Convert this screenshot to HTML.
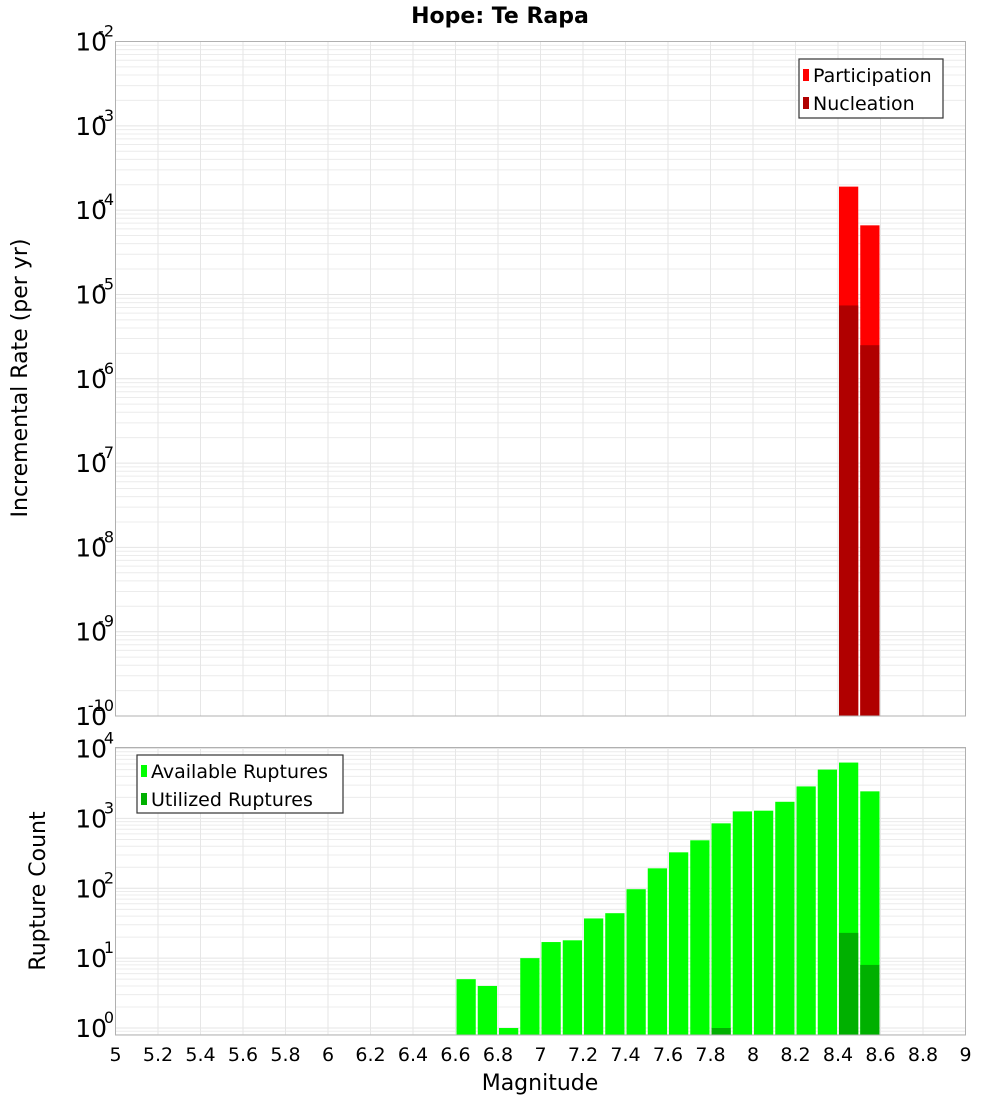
<!DOCTYPE html>
<html><head><meta charset="utf-8"><style>
body{margin:0;background:#fff;}
svg{display:block;font-family:"DejaVu Sans","Liberation Sans",sans-serif;}
</style></head><body>
<svg id="chart" width="1000" height="1100" viewBox="0 0 1000 1100" xmlns="http://www.w3.org/2000/svg">
<text x="500" y="23" text-anchor="middle" font-size="22" font-weight="bold">Hope: Te Rapa</text>
<g id="top"></g>
<g id="bot"></g>
<text transform="translate(27,378) rotate(-90)" text-anchor="middle" font-size="22">Incremental Rate (per yr)</text>
<text transform="translate(45,891) rotate(-90)" text-anchor="middle" font-size="22">Rupture Count</text>
<text x="540" y="1090" text-anchor="middle" font-size="22">Magnitude</text>
</svg>
<script>
const binCenters=[6.65,6.75,6.85,6.95,7.05,7.15,7.25,7.35,7.45,7.55,7.65,7.75,7.85,7.95,8.05,8.15,8.25,8.35,8.45,8.55];
const availableCounts=[5,4,1,10,17,18,37,44,97,193,327,486,850,1260,1290,1730,2870,5000,6300,2440];
const utilizedCounts=[0,0,0,0,0,0,0,0,0,0,0,0,1,0,0,0,0,0,23,8];
const rateMags=[8.45,8.55];
const participationRates=[1.9e-4,6.6e-5];
const nucleationRates=[7.4e-6,2.5e-6];
const xTicks=[5,5.2,5.4,5.6,5.8,6,6.2,6.4,6.6,6.8,7,7.2,7.4,7.6,7.8,8,8.2,8.4,8.6,8.8,9];
const topExps=[-2,-3,-4,-5,-6,-7,-8,-9,-10];
const botExps=[4,3,2,1,0];

const NS="http://www.w3.org/2000/svg";
const X0=115.5,X1=965.5;
const xs=m=>X0+(m-5)/4*(X1-X0);
const BW=0.1*(X1-X0)/4;
function mk(p,t,a){const e=document.createElementNS(NS,t);for(const k in a)e.setAttribute(k,a[k]);p.appendChild(e);return e;}

function panel(g,top,bot,lmax,lmin,exps,name){
  const ys=v=>top+(lmax-Math.log10(v))/(lmax-lmin)*(bot-top);
  // grid
  for(let e=Math.floor(lmin);e<=Math.ceil(lmax);e++){
    for(let k=1;k<10;k++){
      const v=k*Math.pow(10,e);const lv=Math.log10(v);
      if(lv<lmin||lv>lmax)continue;
      const y=ys(v);
      const l=mk(g,'line',{x1:X0,x2:X1,y1:y,y2:y,stroke:k==1?'#e4e4e4':'#ececec','stroke-width':1});
      
      
    }
  }
  xTicks.forEach(m=>{
    const l=mk(g,'line',{x1:xs(m),x2:xs(m),y1:top,y2:bot,stroke:'#e6e6e6','stroke-width':1});
    
    
  });
  exps.forEach(e=>{
    const y=ys(Math.pow(10,e));
    const t=mk(g,'text',{x:107,y:y+9,'text-anchor':'end','font-size':25});
    
    
    t.textContent='10';
    const s=mk(g,'text',{x:114,y:y-5,'text-anchor':'end','font-size':16});
    
    
    s.textContent=String(e);
  });
  return ys;
}

const gt=document.getElementById('top');
const ysT=panel(gt,41.5,716,-2,-10,topExps,'top');
rateMags.forEach((m,i)=>{
  const x=xs(m-0.05)+1;
  const r=mk(gt,'rect',{x:x,y:ysT(participationRates[i]),width:BW-2,height:716-ysT(participationRates[i]),fill:'#ff0000'});
  
  
  const n=mk(gt,'rect',{x:x,y:ysT(nucleationRates[i]),width:BW-2,height:716-ysT(nucleationRates[i]),fill:'#b00000'});
  
  
});
const bt=mk(gt,'rect',{x:X0,y:41.5,width:X1-X0,height:716-41.5,fill:'none',stroke:'#b0b0b0'});



const gb=document.getElementById('bot');
const B0=747.5,B1=1035;
const ysB=panel(gb,B0,B1,4.015,-0.1,botExps,'bottom');
binCenters.forEach((m,i)=>{
  const x=xs(m-0.05)+1;
  if(availableCounts[i]>0){
    const r=mk(gb,'rect',{x:x,y:ysB(availableCounts[i]),width:BW-2,height:B1-ysB(availableCounts[i]),fill:'#00ff00'});
    
    
  }
  if(utilizedCounts[i]>0){
    const u=mk(gb,'rect',{x:x,y:ysB(utilizedCounts[i]),width:BW-2,height:B1-ysB(utilizedCounts[i]),fill:'#00b000'});
    
    
  }
});
const bb=mk(gb,'rect',{x:X0,y:B0,width:X1-X0,height:B1-B0,fill:'none',stroke:'#b0b0b0'});


xTicks.forEach(m=>{
  const t=mk(gb,'text',{x:xs(m),y:1061,'text-anchor':'middle','font-size':19});
  
  
  t.textContent=String(m);
});

// legends
function legend(g,x,y,w,h,items,name){
  const lg=mk(g,'g',{});
  
  
  mk(lg,'rect',{x:x,y:y,width:w,height:h,fill:'#fff',stroke:'#333','stroke-width':1.2});
  items.forEach((it,i)=>{
    const e=mk(lg,'g',{});
    
    
    mk(e,'rect',{x:x+4,y:y+10+i*28,width:6,height:12,fill:it[1]});
    const t=mk(e,'text',{x:x+14,y:y+23+i*28,'font-size':19});
    t.textContent=it[0];
  });
}
legend(gt,799,59,144,59,[['Participation','#ff0000'],['Nucleation','#b00000']],'rate-legend');
legend(gb,137,755,206,58,[['Available Ruptures','#00ff00'],['Utilized Ruptures','#00b000']],'count-legend');
</script>
</body></html>
